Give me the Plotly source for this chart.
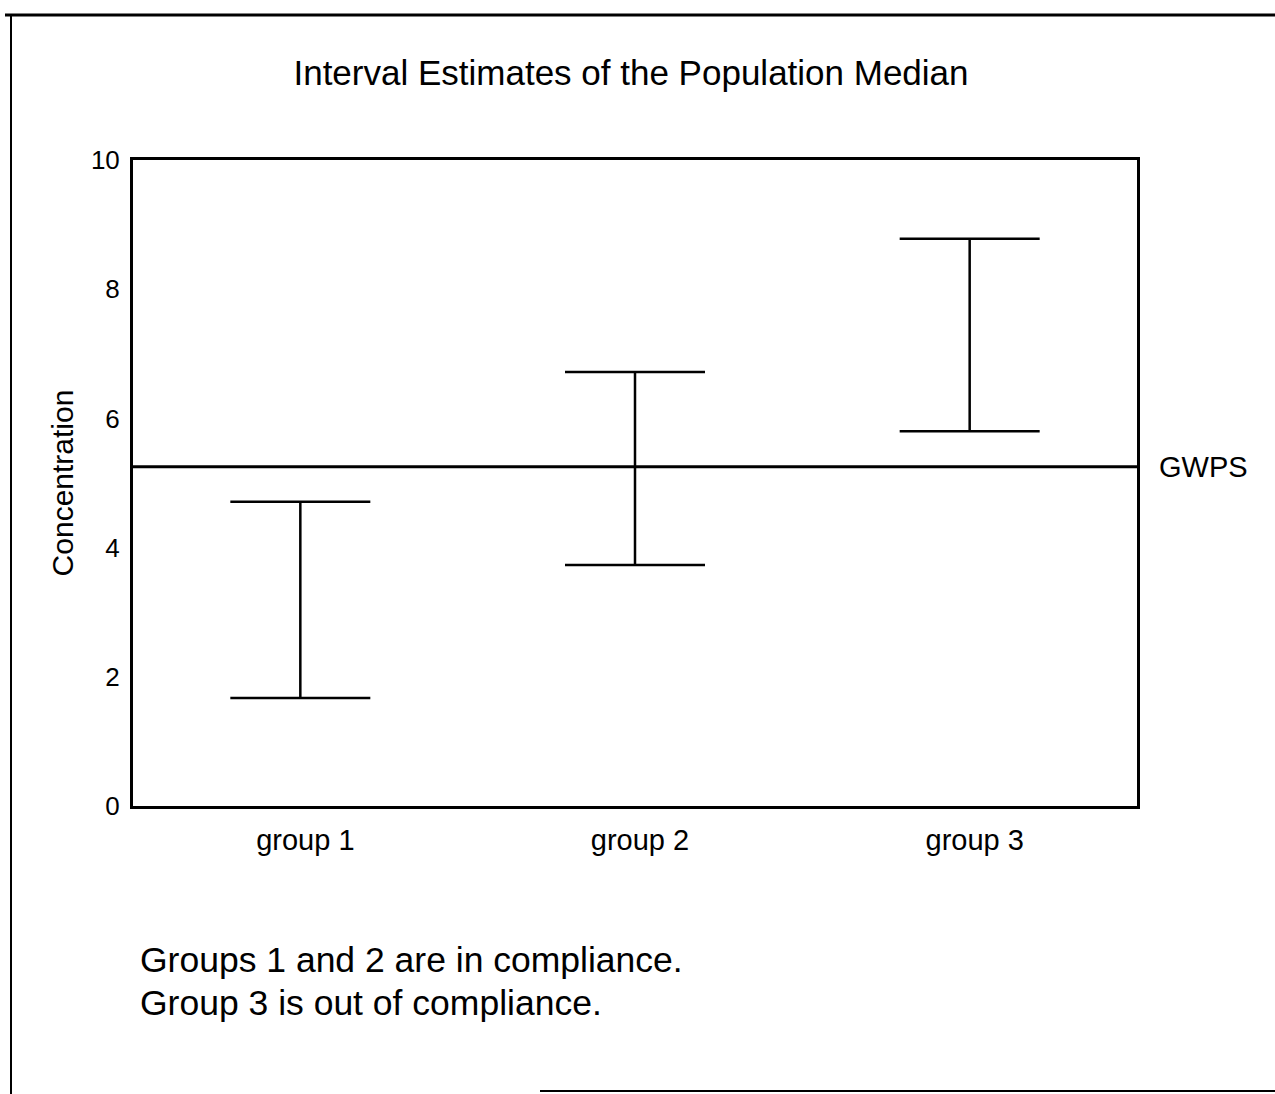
import plotly.graph_objects as go

groups = ["group 1", "group 2", "group 3"]
lower = [1.67, 3.73, 5.80]
upper = [4.71, 6.72, 8.78]
gwps = 5.25
y_ticks = [0, 2, 4, 6, 8, 10]

W, H = 1275, 1094
L, R, T, B = 133, 1137, 160, 806
FONT = "Liberation Sans, Arial, Helvetica, sans-serif"

x_pos = [1, 2, 3]

fig = go.Figure()
fig.add_trace(go.Scatter(
    x=x_pos, y=lower, mode="markers",
    marker=dict(size=1, color="rgba(0,0,0,0)"),
    error_y=dict(type="data", symmetric=False,
                 array=[u - l for u, l in zip(upper, lower)],
                 arrayminus=[0, 0, 0],
                 color="black", thickness=2.5, width=70),
    showlegend=False, hoverinfo="skip",
))

def px(xp):
    return (xp - L) / (R - L)

def py(yp):
    return (B - yp) / (B - T)

shapes = [
    # GWPS line
    dict(type="line", xref="paper", yref="y", x0=0, x1=1, y0=gwps, y1=gwps,
         line=dict(color="black", width=3)),
    # outer frame
    dict(type="line", xref="paper", yref="paper", x0=px(5), x1=px(1275), y0=py(15), y1=py(15),
         line=dict(color="black", width=3)),
    dict(type="line", xref="paper", yref="paper", x0=px(11), x1=px(11), y0=py(15), y1=py(1094),
         line=dict(color="black", width=2)),
    dict(type="line", xref="paper", yref="paper", x0=px(540), x1=px(1275), y0=py(1091), y1=py(1091),
         line=dict(color="black", width=2)),
]

annotations = [
    dict(text="GWPS", xref="paper", yref="y", x=px(1157), y=gwps, xanchor="left", yanchor="middle",
         showarrow=False, font=dict(size=29, color="black", family=FONT)),
    dict(text="Groups 1 and 2 are in compliance.", xref="paper", yref="paper",
         x=px(138), y=py(960), xanchor="left", yanchor="middle", showarrow=False,
         font=dict(size=35.5, color="black", family=FONT)),
    dict(text="Group 3 is out of compliance.", xref="paper", yref="paper",
         x=px(138), y=py(1003), xanchor="left", yanchor="middle", showarrow=False,
         font=dict(size=35.5, color="black", family=FONT)),
]

fig.update_layout(
    width=W, height=H,
    margin=dict(l=L, r=W - R, t=T, b=H - B),
    paper_bgcolor="white", plot_bgcolor="white",
    title=dict(text="Interval Estimates of the Population Median", x=631 / W, xanchor="center",
               y=1 - 73 / H, yanchor="middle",
               font=dict(size=35, color="black", family=FONT)),
    xaxis=dict(range=[0.5, 3.5], tickmode="array", tickvals=x_pos, ticktext=groups,
               showgrid=False, zeroline=False, showline=True, linecolor="black", linewidth=3,
               mirror=True, ticks="", ticklabelstandoff=6, ticklabelshift=5,
               tickfont=dict(size=29, color="black", family=FONT)),
    yaxis=dict(range=[0, 10], tickmode="array", tickvals=y_ticks,
               showgrid=False, zeroline=False, showline=True, linecolor="black", linewidth=3,
               mirror=True, ticks="", ticklabelstandoff=5,
               title=dict(text="Concentration", standoff=9,
                          font=dict(size=30, color="black", family=FONT)),
               tickfont=dict(size=26, color="black", family=FONT)),
    shapes=shapes,
    annotations=annotations,
)

fig.write_html("out.html", config={"displayModeBar": False},
               post_script="document.body.style.margin='0px';")
